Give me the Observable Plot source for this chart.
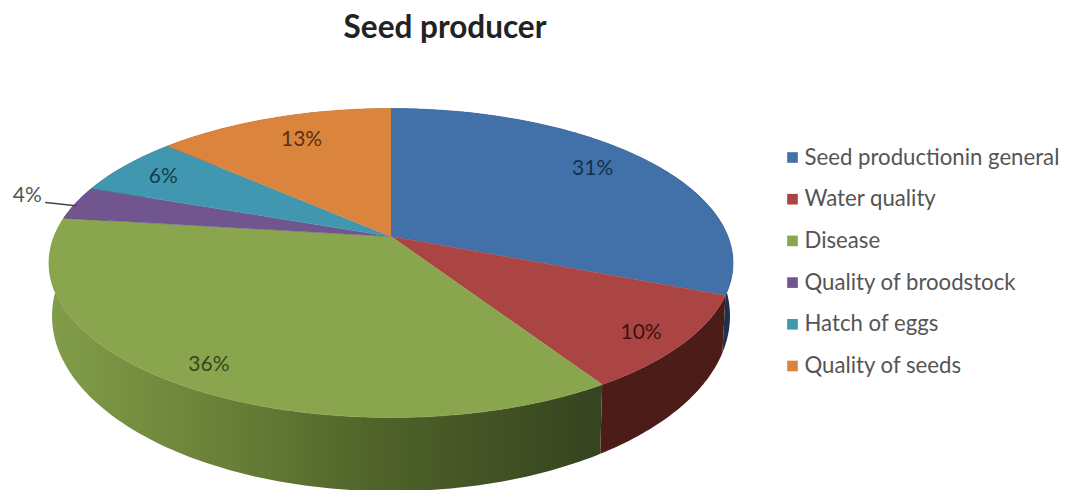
<!DOCTYPE html>
<html>
<head>
<meta charset="utf-8">
<script src="https://cdn.jsdelivr.net/npm/d3@7"></script>
<script src="https://cdn.jsdelivr.net/npm/@observablehq/plot@0.6"></script>
<style>
  html, body { margin: 0; padding: 0; background: #fff; }
  #title { height: 50px; width: 890px; text-align: center; font: bold 31.5px Lato, sans-serif; line-height: 52px; color: #222; }
  svg { display: block; }
</style>
</head>
<body>
<div id="title">Seed producer</div>
<div id="chart"></div>
<script>
// Data
const categories = ["Seed productionin general", "Water quality", "Disease", "Quality of broodstock", "Hatch of eggs", "Quality of seeds"];
const percents = [31, 10, 36, 3.5, 6.25, 13.25];
const topColors = ["#4271a9", "#aa4543", "#89a54e", "#71558f", "#4097af", "#db843d"];
const rimColors = ["#1e3250", "#4b1c18", "url(#greenRim)", "#33264a", "#1c4450", "#6a3c14"];
const labelInk = ["#14304f", "#3d1210", "#38461f", "#555555", "#123e50", "#5c3010"];
const labelReach = [0.813, 0.882, 0.88, 1.17, 0.8425, 0.786];
const labelTurn = [-0.8, 0.3, 0, 0.25, -0.125, 0.425];

// Tilted-disc view of the pie: unit disc -> picture units
const apex = [390.5, 236], tilt = 0.1715, wide = 337, deep = 150;
function view(angle, r = 1) {
  const c = Math.sin(angle) * r, s = -Math.cos(angle) * r, d = 1 - tilt * s;
  return [apex[0] + wide * c / d, apex[1] + deep * s / d];
}
const under = ([x, y]) => [390.5 + (x - 390.5) * 0.991, 315 + (y - 262) * 1.133];

// Slices
const total = d3.sum(percents);
let run = 0;
const slices = categories.map((name, i) => {
  const a0 = run / total * 2 * Math.PI;
  run += percents[i];
  const a1 = run / total * 2 * Math.PI;
  return {name, i, a0, a1, mid: (a0 + a1) / 2, pct: percents[i]};
});
function arc(s) {
  const n = Math.max(4, Math.ceil((s.a1 - s.a0) * 60));
  return d3.range(n + 1).map(k => view(s.a0 + (s.a1 - s.a0) * k / n));
}
const tops = slices.flatMap(s => [apex, ...arc(s)].map(([x, y]) => ({x, y, name: s.name})));
const rims = slices.map(s => {
  const a = arc(s);
  return {i: s.i, pts: [...a, ...a.slice().reverse().map(under)].map(([x, y]) => ({x, y}))};
});
const labels = slices.map(s => {
  const [x, y] = view(s.mid + labelTurn[s.i] / total * 2 * Math.PI, labelReach[s.i]);
  return {x, y, text: Math.round(s.pct) + "%", ink: labelInk[s.i]};
});
const small = slices[3];
const leader = [view(small.mid, 1.1), view(small.mid, 1.0)].map(([x, y]) => ({x, y: y + 3}));

// Legend rows
const legendRows = categories.map((name, i) => ({name, x: 792, y: 157 + i * 41.7}));

const plot = Plot.plot({
  width: 1065, height: 440, margin: 0,
  x: {domain: [0, 1065], range: [0, 1065], axis: null},
  y: {domain: [50, 490], range: [0, 440], axis: null},
  color: {type: "ordinal", domain: categories, range: topColors},
  style: {background: "#fff"},
  marks: [
    ...rims.map(r => Plot.line(r.pts, {x: "x", y: "y", fill: rimColors[r.i], stroke: "none"})),
    Plot.line(tops, {x: "x", y: "y", z: "name", fill: "name", stroke: "name", strokeWidth: 0.5}),
    Plot.line(leader, {x: "x", y: "y", stroke: "#444", strokeWidth: 1.5}),
    Plot.text(labels, {x: "x", y: "y", text: "text", fill: "ink", fontSize: 21, fontFamily: "Lato, sans-serif"}),
    Plot.dot(legendRows, {x: "x", y: "y", symbol: "square", r: 6, fill: "name"}),
    Plot.text(legendRows, {x: "x", y: "y", dx: 12, text: "name", textAnchor: "start", fill: "#555", fontSize: 22.2, fontFamily: "Lato, sans-serif"})
  ]
});
const defs = d3.select(plot).insert("defs", ":first-child");
const grad = defs.append("linearGradient").attr("id", "greenRim").attr("gradientUnits", "userSpaceOnUse")
  .attr("x1", 48).attr("x2", 603).attr("y1", 0).attr("y2", 0);
[[0, "#819d49"], [0.3, "#6a8238"], [0.6, "#4f6229"], [1, "#35431f"]].forEach(([o, c]) =>
  grad.append("stop").attr("offset", o).attr("stop-color", c));
document.getElementById("chart").appendChild(plot);
</script>
</body>
</html>
